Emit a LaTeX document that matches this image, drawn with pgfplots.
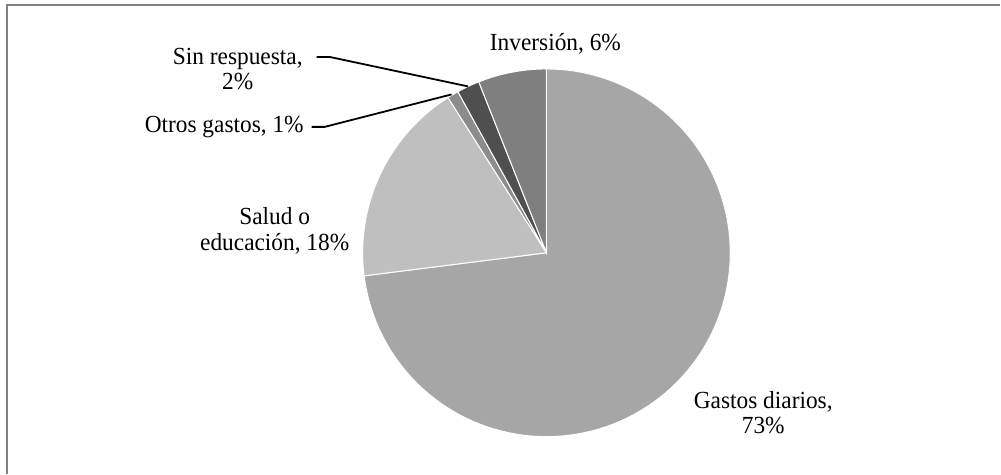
\documentclass[border=0pt]{standalone}
\usepackage{pgfplots}
\pgfplotsset{compat=1.18}
\usepackage{fontspec}
\setmainfont[FakeStretch=0.95]{Liberation Serif}
\definecolor{cGastos}{HTML}{A6A6A6}
\definecolor{cSalud}{HTML}{BFBFBF}
\definecolor{cOtros}{HTML}{8C8C8C}
\definecolor{cSin}{HTML}{4F4F4F}
\definecolor{cInv}{HTML}{7F7F7F}
\definecolor{frame}{HTML}{808080}
% shares (%), clockwise from 12 o'clock
\def\vGastos{73}
\def\vSalud{18}
\def\vOtros{1}
\def\vSin{2}
\def\vInv{6}
\begin{document}
\begin{tikzpicture}
\pgfmathsetmacro{\aA}{90}
\pgfmathsetmacro{\aB}{\aA-3.6*\vGastos}
\pgfmathsetmacro{\aC}{\aB-3.6*\vSalud}
\pgfmathsetmacro{\aD}{\aC-3.6*\vOtros}
\pgfmathsetmacro{\aE}{\aD-3.6*\vSin}
\pgfmathsetmacro{\aF}{\aE-3.6*\vInv}
\begin{axis}[
  scale only axis, width=500.5pt, height=237pt,
  xmin=0, xmax=1001, ymin=0, ymax=474,
  axis lines=none, clip=false,
  font=\fontsize{12.3pt}{12.7pt}\selectfont,
]
\path (axis cs:0,0) rectangle (axis cs:1001,474);
\draw[frame, line width=1pt] (axis cs:7.5,0) -- (axis cs:7.5,468.5) -- (axis cs:1001,468.5);
\addplot[fill=cGastos, draw=white, line width=0.5pt, domain=\aB:\aA, samples=120]
  ({547+184*cos(x)},{221+184*sin(x)}) -- (axis cs:547,221) -- cycle;
\addplot[fill=cSalud, draw=white, line width=0.5pt, domain=\aC:\aB, samples=40]
  ({547+184*cos(x)},{221+184*sin(x)}) -- (axis cs:547,221) -- cycle;
\addplot[fill=cOtros, draw=white, line width=0.5pt, domain=\aD:\aC, samples=5]
  ({547+184*cos(x)},{221+184*sin(x)}) -- (axis cs:547,221) -- cycle;
\addplot[fill=cSin, draw=white, line width=0.5pt, domain=\aE:\aD, samples=8]
  ({547+184*cos(x)},{221+184*sin(x)}) -- (axis cs:547,221) -- cycle;
\addplot[fill=cInv, draw=white, line width=0.5pt, domain=\aF:\aE, samples=20]
  ({547+184*cos(x)},{221+184*sin(x)}) -- (axis cs:547,221) -- cycle;
% leader lines
\draw[black, line width=0.9pt] (axis cs:317,417) -- (axis cs:330,417) -- (axis cs:468.5,387.5);
\draw[black, line width=0.9pt] (axis cs:312,347) -- (axis cs:325,347) -- (axis cs:452,379.5);
% labels
\node[align=center] at (axis cs:556,430) {Inversión, 6\%};
\node[align=center] at (axis cs:238,405) {Sin respuesta,\\2\%};
\node[anchor=east] at (axis cs:311,347) {Otros gastos, 1\%};
\node[align=center] at (axis cs:275,243) {Salud o\\educación, 18\%};
\node[align=center] at (axis cs:764,61) {Gastos diarios,\\73\%};
\end{axis}
\end{tikzpicture}
\end{document}
